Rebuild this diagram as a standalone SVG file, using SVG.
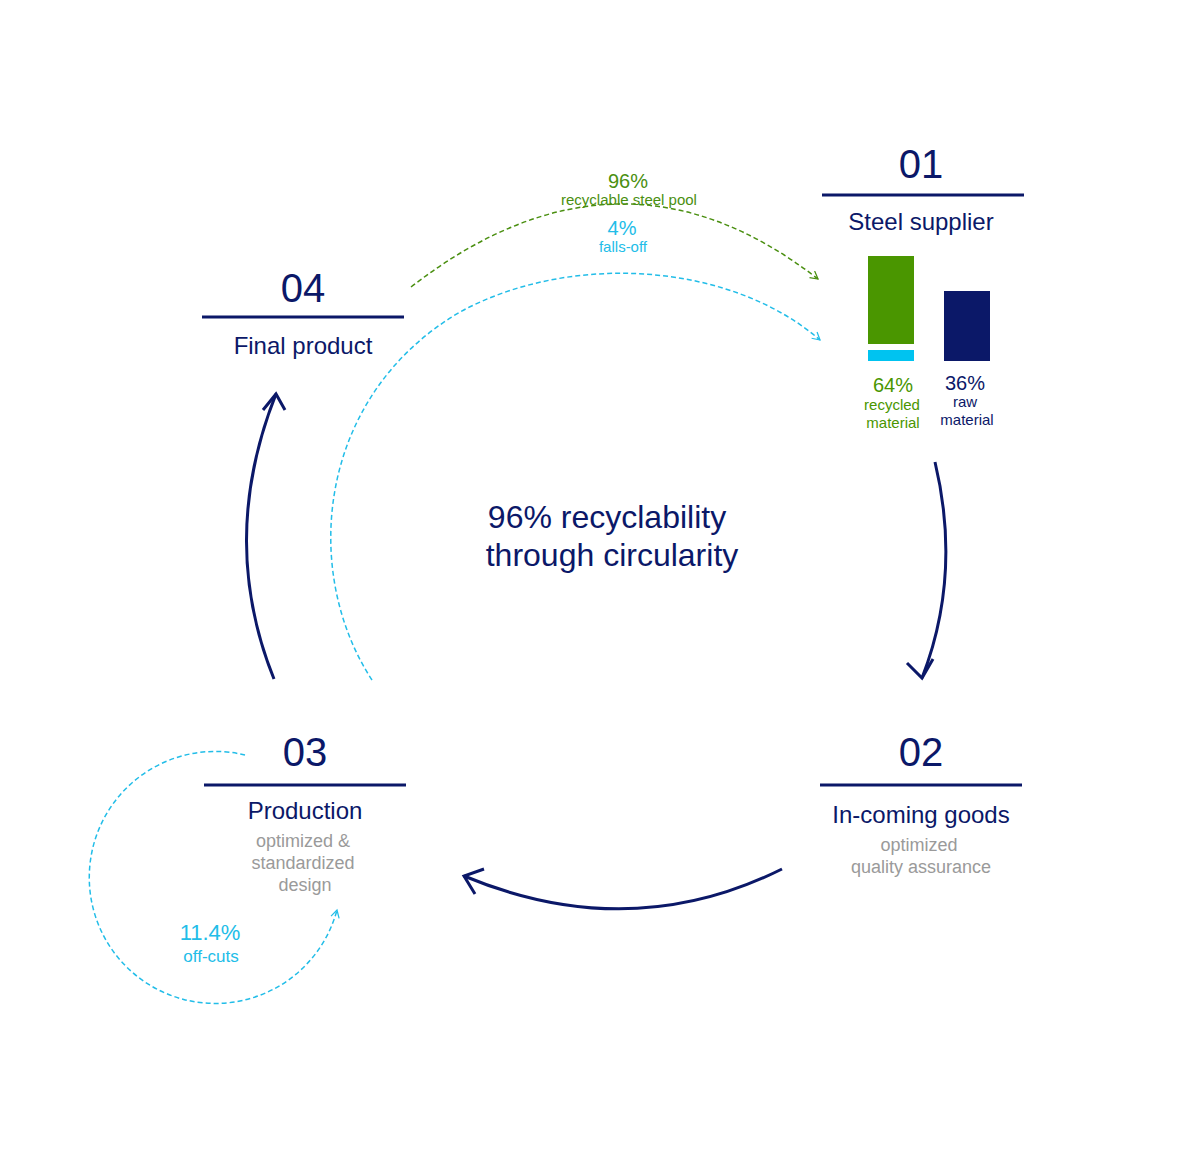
<svg xmlns="http://www.w3.org/2000/svg" width="1200" height="1158" viewBox="0 0 1200 1158">
<style>
text{font-family:"Liberation Sans",Arial,sans-serif;text-anchor:middle}
.num{font-size:40px;fill:#0b1868}
.ttl{font-size:24px;fill:#0b1868}
.sub{font-size:18px;fill:#9a9a9a}
.rule{stroke:#0b1868;stroke-width:3}
.flow{fill:none;stroke:#0b1868;stroke-width:3}
.dg{fill:none;stroke:#4a8f10;stroke-width:1.5;stroke-dasharray:5 3}
.dc{fill:none;stroke:#22bde8;stroke-width:1.5;stroke-dasharray:5 3}
</style>
<defs>
<marker id="mn" viewBox="0 0 12 12" refX="10" refY="6" markerWidth="7" markerHeight="7" orient="auto" markerUnits="userSpaceOnUse"><path d="M1,1 L10,6 L1,11" fill="none" stroke="#0b1868" stroke-width="1.4"/></marker>
<marker id="mg" viewBox="0 0 12 12" refX="10" refY="6" markerWidth="10" markerHeight="10" orient="auto" markerUnits="userSpaceOnUse"><path d="M1,1 L10,6 L1,11" fill="none" stroke="#4a8f10" stroke-width="1.5"/></marker>
<marker id="mc" viewBox="0 0 12 12" refX="10" refY="6" markerWidth="10" markerHeight="10" orient="auto" markerUnits="userSpaceOnUse"><path d="M1,1 L10,6 L1,11" fill="none" stroke="#22bde8" stroke-width="1.5"/></marker>
</defs>
<rect width="1200" height="1158" fill="#fff"/>
<g id="connectors">
<path class="flow" d="M935,462 Q962,575 922,678" marker-end="url(#mn)" style="marker-end:none"/>
<path class="flow" d="M907,663 L922,678 L933,659"/>
<path class="flow" d="M782,869 Q630,945 464,876"/>
<path class="flow" d="M484,869 L464,876 L475,894"/>
<path class="flow" d="M274,679 Q218,540 276,394"/>
<path class="flow" d="M263,410 L276,394 L285,410"/>
<path class="dg" d="M411,287 Q620,125 818,279" marker-end="url(#mg)"/>
<path class="dc" d="M372,680 C300,570 318,395 460,312 C570,252 730,262 820,340" marker-end="url(#mc)"/>
<path class="dc" d="M245,755 A126 126 0 1 0 337,910" marker-end="url(#mc)"/>
</g>
<g id="node01">
<text class="num" x="921" y="178">01</text>
<line class="rule" x1="822" y1="195" x2="1024" y2="195"/>
<text class="ttl" x="921" y="230">Steel supplier</text>
<rect x="868" y="256" width="46" height="88" fill="#4a9600"/>
<rect x="868" y="350" width="46" height="11" fill="#00c3f0"/>
<rect x="944" y="291" width="46" height="70" fill="#0b1868"/>
<text x="893" y="392" font-size="20" fill="#4a9600">64%</text>
<text x="892" y="410" font-size="15" fill="#4a9600">recycled</text>
<text x="893" y="428" font-size="15" fill="#4a9600">material</text>
<text x="965" y="390" font-size="20" fill="#0b1868">36%</text>
<text x="965" y="407" font-size="15" fill="#0b1868">raw</text>
<text x="967" y="425" font-size="15" fill="#0b1868">material</text>
</g>
<g id="node02">
<text class="num" x="921" y="766">02</text>
<line class="rule" x1="820" y1="785" x2="1022" y2="785"/>
<text class="ttl" x="921" y="823">In-coming goods</text>
<text class="sub" x="919" y="851">optimized</text>
<text class="sub" x="921" y="873">quality assurance</text>
</g>
<g id="node03">
<text class="num" x="305" y="766">03</text>
<line class="rule" x1="204" y1="785" x2="406" y2="785"/>
<text class="ttl" x="305" y="819">Production</text>
<text class="sub" x="303" y="847">optimized &amp;</text>
<text class="sub" x="303" y="869">standardized</text>
<text class="sub" x="305" y="891">design</text>
<text x="210" y="940" font-size="22" fill="#22bde8">11.4%</text>
<text x="211" y="962" font-size="17" fill="#22bde8">off-cuts</text>
</g>
<g id="node04">
<text class="num" x="303" y="302">04</text>
<line class="rule" x1="202" y1="317" x2="404" y2="317"/>
<text class="ttl" x="303" y="354">Final product</text>
</g>
<g id="labels">
<text x="628" y="188" font-size="20" fill="#4a8f10">96%</text>
<text x="629" y="205" font-size="15" fill="#4a8f10">recyclable steel pool</text>
<text x="622" y="235" font-size="20" fill="#22bde8">4%</text>
<text x="623" y="252" font-size="15" fill="#22bde8">falls-off</text>
<text x="607" y="528" font-size="32" fill="#0b1868">96% recyclability</text>
<text x="612" y="566" font-size="32" fill="#0b1868">through circularity</text>
</g>
</svg>
